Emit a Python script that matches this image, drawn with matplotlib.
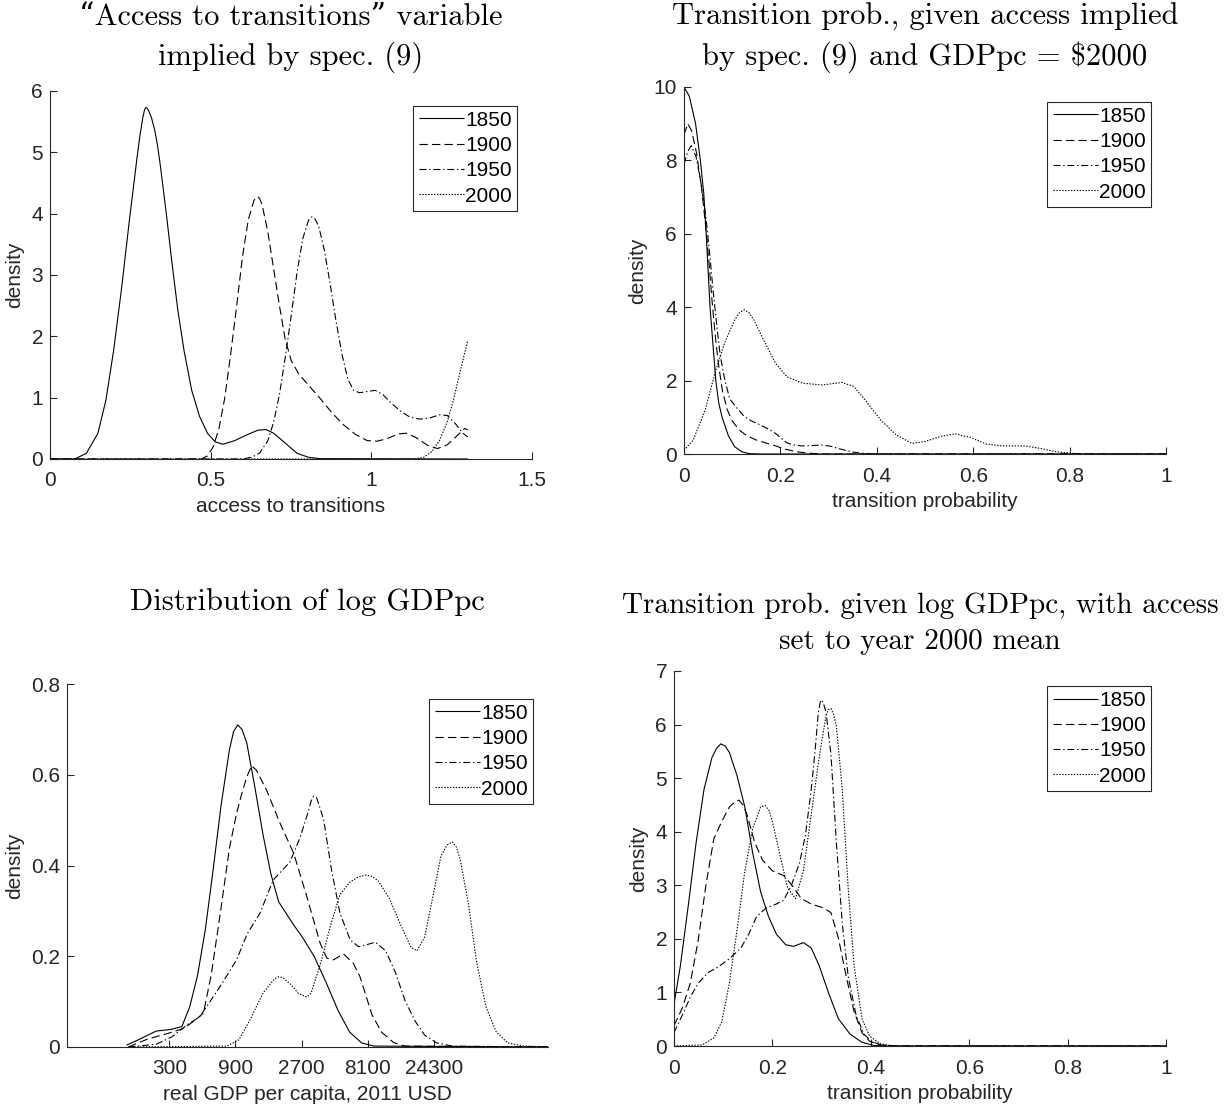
import numpy as np
import matplotlib.pyplot as plt

plt.rcParams['font.family'] = ['Liberation Sans', 'DejaVu Sans']
plt.rcParams['lines.scale_dashes'] = False
plt.rcParams['axes.unicode_minus'] = False

years = ['1850', '1900', '1950', '2000']
# line styles per year (dash patterns in points)
dashes = [(0, ()), (0, (6, 3)), (0, (5, 2, 1, 2)), (0, (1, 1.1))]
GREY = '#262626'
TITLE_FONT = ['cmr10', 'DejaVu Serif']
FS = 15

# ---- panel 1: access to transitions
acc_x_1850 = [0, 0.077, 0.113, 0.149, 0.174, 0.198, 0.222, 0.247, 0.271, 0.28, 0.289, 0.294,
              0.298, 0.302, 0.307, 0.316, 0.326, 0.335, 0.344, 0.362, 0.380, 0.398, 0.417,
              0.441, 0.465, 0.49, 0.514, 0.538, 0.575, 0.611, 0.647, 0.672, 0.696, 0.732,
              0.769, 0.805, 0.842, 1.3]
acc_y_1850 = [0, 0, 0.092, 0.418, 0.96, 1.77, 2.75, 3.89, 4.92, 5.28, 5.57, 5.69,
              5.73, 5.72, 5.68, 5.56, 5.36, 5.1, 4.76, 4.0, 3.18, 2.42, 1.77,
              1.12, 0.70, 0.42, 0.28, 0.24, 0.30, 0.39, 0.47, 0.48, 0.42, 0.26,
              0.092, 0.027, 0.005, 0]
acc_x_1900 = [0, 0.471, 0.49, 0.508, 0.526, 0.544, 0.562, 0.581, 0.599, 0.617, 0.635, 0.645,
              0.652, 0.66, 0.678, 0.696, 0.714, 0.732, 0.751, 0.775, 0.805, 0.842, 0.878,
              0.915, 0.951, 0.987, 1.018, 1.048, 1.085, 1.109, 1.139, 1.176, 1.206, 1.236,
              1.267, 1.291, 1.3]
acc_y_1900 = [0, 0, 0.05, 0.2, 0.5, 1.0, 1.7, 2.5, 3.3, 3.9, 4.22, 4.28,
              4.25, 4.15, 3.7, 3.1, 2.5, 1.95, 1.6, 1.38, 1.2, 0.98, 0.75,
              0.55, 0.4, 0.3, 0.29, 0.33, 0.41, 0.42, 0.35, 0.22, 0.17, 0.23,
              0.38, 0.5, 0.47]
acc_x_1950 = [0, 0.599, 0.629, 0.653, 0.678, 0.696, 0.714, 0.732, 0.751, 0.769, 0.787, 0.805,
              0.812, 0.817, 0.823, 0.836, 0.854, 0.872, 0.89, 0.909, 0.927, 0.945, 0.963,
              0.987, 1.012, 1.036, 1.06, 1.091, 1.121, 1.151, 1.182, 1.212, 1.236, 1.261,
              1.285, 1.3]
acc_y_1950 = [0, 0, 0.03, 0.1, 0.3, 0.6, 1.05, 1.65, 2.35, 3.05, 3.6, 3.9,
              3.94, 3.95, 3.93, 3.8, 3.4, 2.85, 2.25, 1.7, 1.3, 1.12, 1.08,
              1.1, 1.12, 1.05, 0.92, 0.78, 0.68, 0.65, 0.67, 0.72, 0.71, 0.58,
              0.42, 0.36]
acc_x_2000 = [0, 1.133, 1.164, 1.188, 1.212, 1.236, 1.255, 1.273, 1.289, 1.3]
acc_y_2000 = [0, 0, 0.03, 0.12, 0.3, 0.6, 0.95, 1.35, 1.7, 1.93]

# ---- panel 2: transition prob. given access, GDPpc = $2000
tp_x_1850 = [0, 0.011, 0.024, 0.034, 0.041, 0.046, 0.05, 0.054, 0.06, 0.066, 0.072, 0.079,
             0.092, 0.105, 0.12, 0.135, 0.16, 1.0]
tp_y_1850 = [10.0, 9.75, 9.0, 8.0, 7.1, 6.0, 5.0, 4.0, 3.0, 2.0, 1.4, 1.0,
             0.5, 0.2, 0.06, 0.01, 0, 0]
tp_x_1900 = [0, 0.008, 0.016, 0.026, 0.036, 0.045, 0.052, 0.058, 0.065, 0.072, 0.08, 0.09,
             0.1, 0.115, 0.13, 0.15, 0.17, 0.19, 0.21, 0.235, 0.26, 0.29, 1.0]
tp_y_1900 = [8.7, 9.0, 8.8, 8.2, 7.3, 6.2, 5.2, 4.2, 3.2, 2.4, 1.7, 1.2,
             0.9, 0.65, 0.5, 0.38, 0.3, 0.22, 0.13, 0.06, 0.02, 0, 0]
tp_x_1950 = [0, 0.008, 0.015, 0.025, 0.035, 0.045, 0.053, 0.06, 0.068, 0.075, 0.085, 0.095,
             0.11, 0.125, 0.14, 0.157, 0.175, 0.19, 0.2, 0.214, 0.23, 0.246, 0.265, 0.287,
             0.305, 0.32, 0.335, 0.352, 0.37, 0.39, 0.41, 1.0]
tp_y_1950 = [7.9, 8.25, 8.4, 8.1, 7.4, 6.5, 5.5, 4.5, 3.5, 2.7, 2.0, 1.5,
             1.25, 1.02, 0.9, 0.8, 0.68, 0.56, 0.45, 0.3, 0.24, 0.22, 0.23, 0.245,
             0.21, 0.15, 0.1, 0.05, 0.02, 0.005, 0, 0]
tp_x_2000 = [0, 0.019, 0.044, 0.064, 0.084, 0.105, 0.115, 0.125, 0.135, 0.145, 0.165, 0.19,
             0.214, 0.246, 0.287, 0.327, 0.352, 0.376, 0.408, 0.44, 0.473, 0.5, 0.53, 0.562,
             0.595, 0.627, 0.66, 0.708, 0.74, 0.773, 0.805, 0.83, 1.0]
tp_y_2000 = [0.1, 0.38, 1.2, 2.2, 3.02, 3.65, 3.85, 3.93, 3.85, 3.65, 3.11, 2.47,
             2.1, 1.93, 1.88, 1.95, 1.84, 1.47, 0.93, 0.52, 0.29, 0.34, 0.47, 0.55,
             0.45, 0.27, 0.22, 0.22, 0.15, 0.06, 0.02, 0, 0]

# ---- panel 3: distribution of log GDPpc (x in ln of 2011 USD)
lg_x_1850 = [4.99, 5.22, 5.48, 5.74, 5.91, 6.04, 6.17, 6.30, 6.43, 6.56, 6.70, 6.77, 6.84,
             6.91, 6.99, 7.12, 7.26, 7.39, 7.52, 7.77, 7.91, 8.11, 8.31, 8.51, 8.70, 8.90,
             9.10, 12.0]
lg_y_1850 = [0.004, 0.018, 0.035, 0.039, 0.045, 0.088, 0.157, 0.258, 0.39, 0.53, 0.654, 0.695, 0.71,
             0.70, 0.67, 0.576, 0.468, 0.382, 0.32, 0.269, 0.243, 0.2, 0.142, 0.08, 0.033, 0.009,
             0.002, 0]
lg_x_1900 = [5.02, 5.35, 5.68, 5.94, 6.14, 6.27, 6.40, 6.55, 6.70, 6.82, 6.91, 6.99, 7.07,
             7.15, 7.32, 7.54, 7.77, 7.99, 8.21, 8.32, 8.43, 8.60, 8.76, 8.87, 8.98, 9.07,
             9.23, 9.43, 9.62, 12.0]
lg_y_1900 = [0, 0.018, 0.03, 0.041, 0.06, 0.075, 0.16, 0.295, 0.437, 0.515, 0.56, 0.595, 0.62,
             0.61, 0.566, 0.494, 0.427, 0.331, 0.229, 0.196, 0.192, 0.205, 0.185, 0.156, 0.11, 0.072,
             0.033, 0.01, 0.002, 0]
lg_x_1950 = [5.02, 5.48, 5.74, 6.0, 6.21, 6.53, 6.82, 7.0, 7.21, 7.43, 7.71, 7.88, 8.02,
             8.06, 8.10, 8.15, 8.20, 8.27, 8.40, 8.54, 8.71, 8.85, 8.97, 9.13, 9.30, 9.46,
             9.62, 9.79, 9.95, 10.15, 10.41, 12.0]
lg_y_1950 = [0, 0.006, 0.022, 0.049, 0.067, 0.13, 0.192, 0.25, 0.295, 0.368, 0.408, 0.463, 0.522,
             0.542, 0.553, 0.55, 0.53, 0.5, 0.39, 0.295, 0.236, 0.221, 0.225, 0.231, 0.212, 0.165,
             0.103, 0.057, 0.026, 0.009, 0.002, 0]
lg_x_2000 = [5.02, 6.66, 6.86, 7.06, 7.26, 7.45, 7.52, 7.60, 7.72, 7.85, 7.99, 8.06, 8.21,
             8.38, 8.54, 8.70, 8.85, 8.97, 9.07, 9.17, 9.36, 9.56, 9.72, 9.82, 9.95, 10.08,
             10.22, 10.32, 10.41, 10.48, 10.54, 10.68, 10.81, 10.97, 11.14, 11.33, 11.6, 12.0]
lg_y_2000 = [0, 0.002, 0.016, 0.064, 0.119, 0.15, 0.155, 0.152, 0.138, 0.118, 0.11, 0.119, 0.181,
             0.266, 0.336, 0.363, 0.375, 0.379, 0.376, 0.367, 0.328, 0.266, 0.22, 0.212, 0.243, 0.328,
             0.421, 0.445, 0.452, 0.44, 0.413, 0.313, 0.189, 0.088, 0.033, 0.009, 0.002, 0]
gdp_ticks = [300, 900, 2700, 8100, 24300]

# ---- panel 4: transition prob. given log GDPpc, access at year 2000 mean
tg_x_1850 = [0, 0.013, 0.029, 0.045, 0.061, 0.077, 0.086, 0.095, 0.104, 0.1125, 0.128, 0.144,
             0.16, 0.176, 0.192, 0.208, 0.227, 0.243, 0.263, 0.279, 0.295, 0.315, 0.334,
             0.358, 0.382, 0.406, 0.43, 1.0]
tg_y_1850 = [0.78, 1.5, 2.62, 3.8, 4.79, 5.38, 5.55, 5.64, 5.6, 5.48, 5.05, 4.46,
             3.6, 2.88, 2.42, 2.09, 1.89, 1.86, 1.93, 1.83, 1.5, 0.97, 0.51,
             0.22, 0.07, 0.01, 0, 0]
tg_x_1900 = [0, 0.017, 0.033, 0.049, 0.065, 0.081, 0.097, 0.1125, 0.124, 0.132, 0.14, 0.148,
             0.164, 0.18, 0.2, 0.223, 0.239, 0.259, 0.279, 0.303, 0.319, 0.334, 0.35, 0.366,
             0.382, 0.398, 0.42, 0.445, 1.0]
tg_y_1900 = [0.38, 0.71, 1.17, 1.96, 3.01, 3.87, 4.19, 4.46, 4.56, 4.59, 4.5, 4.33,
             3.8, 3.47, 3.27, 3.18, 3.01, 2.75, 2.65, 2.58, 2.49, 2.02, 1.3, 0.64,
             0.25, 0.085, 0.02, 0, 0]
tg_x_1950 = [0, 0.017, 0.033, 0.049, 0.069, 0.089, 0.1125, 0.136, 0.152, 0.168, 0.188, 0.208,
             0.223, 0.239, 0.255, 0.267, 0.279, 0.288, 0.293, 0.298, 0.303, 0.309, 0.319, 0.33,
             0.342, 0.354, 0.37, 0.386, 0.402, 0.42, 0.445, 1.0]
tg_y_1950 = [0.25, 0.58, 0.91, 1.17, 1.37, 1.47, 1.63, 1.83, 2.09, 2.42, 2.58, 2.65,
             2.72, 3.01, 3.41, 3.93, 4.79, 5.64, 6.2, 6.46, 6.42, 6.23, 5.44, 3.8,
             2.29, 1.3, 0.58, 0.22, 0.085, 0.02, 0, 0]
tg_x_2000 = [0, 0.057, 0.081, 0.097, 0.1125, 0.128, 0.144, 0.16, 0.176, 0.185, 0.193, 0.2,
             0.216, 0.231, 0.247, 0.263, 0.279, 0.295, 0.309, 0.314, 0.319, 0.324, 0.33,
             0.342, 0.354, 0.366, 0.382, 0.398, 0.42, 0.445, 0.47, 1.0]
tg_y_2000 = [0, 0.02, 0.15, 0.45, 1.17, 2.16, 3.27, 4.06, 4.46, 4.49, 4.4, 4.19,
             3.54, 2.95, 2.75, 3.27, 4.33, 5.38, 6.17, 6.28, 6.3, 6.2, 5.97,
             4.79, 2.95, 1.5, 0.51, 0.18, 0.04, 0.005, 0, 0]

W, H = 1225, 1114


def px_axes(fig, left, top, right, bottom):
    return fig.add_axes([left / W, 1 - bottom / H, (right - left) / W, (bottom - top) / H])


def style(ax, xlabel):
    for s in ['top', 'right']:
        ax.spines[s].set_visible(False)
    for s in ['left', 'bottom']:
        ax.spines[s].set_color(GREY)
        ax.spines[s].set_linewidth(0.8)
    ax.tick_params(direction='in', length=5, width=0.8, colors=GREY, labelsize=FS, pad=5)
    ax.tick_params(axis='x', pad=9)
    ax.set_ylabel('density', fontsize=FS, color=GREY, labelpad=5)
    ax.set_xlabel(xlabel, fontsize=FS, color=GREY, labelpad=5)
    ax.xaxis.set_major_formatter(plt.FuncFormatter(lambda v, p: '%g' % round(v, 6)))
    ax.yaxis.set_major_formatter(plt.FuncFormatter(lambda v, p: '%g' % round(v, 6)))


def draw(ax, xs, ys):
    for x, y, d, lab in zip(xs, ys, dashes, years):
        ax.plot(x, y, color='black', lw=0.8, linestyle=d, label=lab)
    leg = ax.legend(loc='upper right', fontsize=FS, fancybox=False, framealpha=1,
                    edgecolor=GREY, borderpad=0.25, labelspacing=0.3, handlelength=2.2,
                    handletextpad=0.05, borderaxespad=0.7)
    leg.get_frame().set_linewidth(0.8)
    for t in leg.get_texts():
        t.set_color('black')


def add_title(ax, text, pad, size=22):
    ax.set_title(text, family=TITLE_FONT, fontsize=size, linespacing=1.45, pad=pad)


fig = plt.figure(figsize=(W / 100, H / 100), dpi=100)

ax1 = px_axes(fig, 50, 91, 532, 459)
draw(ax1, [acc_x_1850, acc_x_1900, acc_x_1950, acc_x_2000],
     [acc_y_1850, acc_y_1900, acc_y_1950, acc_y_2000])
style(ax1, 'access to transitions')
ax1.set_xlim(0, 1.5)
ax1.set_ylim(0, 6)
ax1.set_xticks([0, 0.5, 1, 1.5])
add_title(ax1, '\u201cAccess to transitions\u201d variable\nimplied by spec. (9)', 19)

ax2 = px_axes(fig, 684, 87, 1166, 454)
draw(ax2, [tp_x_1850, tp_x_1900, tp_x_1950, tp_x_2000],
     [tp_y_1850, tp_y_1900, tp_y_1950, tp_y_2000])
style(ax2, 'transition probability')
ax2.set_xlim(0, 1)
ax2.set_ylim(0, 10)
ax2.set_xticks(np.arange(0, 1.01, 0.2))
ax2.set_yticks(np.arange(0, 10.1, 2))
add_title(ax2, 'Transition prob., given access implied\nby spec. (9) and GDPpc = \\$2000', 16)

ax3 = px_axes(fig, 67, 684, 548, 1047)
draw(ax3, [lg_x_1850, lg_x_1900, lg_x_1950, lg_x_2000],
     [lg_y_1850, lg_y_1900, lg_y_1950, lg_y_2000])
style(ax3, 'real GDP per capita, 2011 USD')
ax3.set_xlim(4, 12)
ax3.set_ylim(0, 0.8)
ax3.set_xticks(np.log(gdp_ticks))
ax3.set_xticklabels([str(g) for g in gdp_ticks])
ax3.set_yticks(np.arange(0, 0.81, 0.2))
add_title(ax3, 'Distribution of log GDPpc', 53)

ax4 = px_axes(fig, 674, 671, 1166, 1046)
draw(ax4, [tg_x_1850, tg_x_1900, tg_x_1950, tg_x_2000],
     [tg_y_1850, tg_y_1900, tg_y_1950, tg_y_2000])
style(ax4, 'transition probability')
ax4.set_xlim(0, 1)
ax4.set_ylim(0, 7)
ax4.set_xticks(np.arange(0, 1.01, 0.2))
add_title(ax4, 'Transition prob. given log GDPpc, with access\nset to year 2000 mean', 16, 21)

fig.savefig('out.png', dpi=100, facecolor='white')
